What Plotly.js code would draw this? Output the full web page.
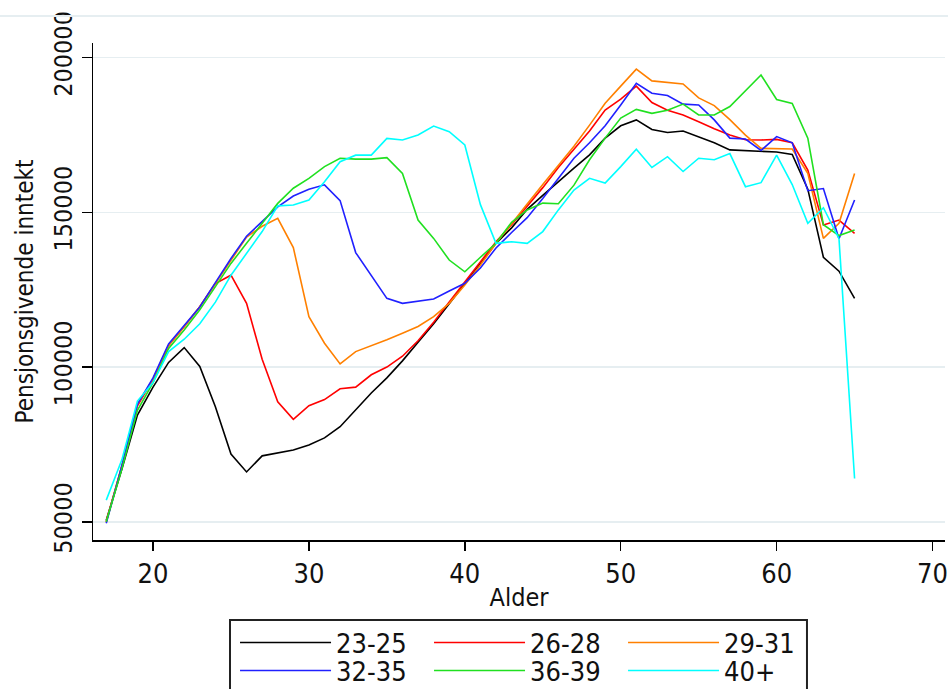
<!DOCTYPE html>
<html><head><meta charset="utf-8">
<script src="https://cdn.plot.ly/plotly-3.0.1.min.js"></script>
<style>html,body{margin:0;padding:0;background:#fff}</style>
</head><body>
<div id="chart" style="width:948px;height:689px"></div>
<script>
const ages = [17,18,19,20,21,22,23,24,25,26,27,28,29,30,31,32,33,34,35,36,37,38,39,40,41,42,43,44,45,46,47,48,49,50,51,52,53,54,55,56,57,58,59,60,61,62,63,64,65];

const seriesNames = ["23-25","26-28","29-31","32-35","36-39","40+"];

const v23_25 = [50500,67000,84500,93500,101500,106300,100200,87200,71900,66100,71300,72300,73200,74800,77100,80700,86100,91600,96500,102000,108000,114000,120500,127000,133500,140000,145000,151000,155500,160000,164300,168600,174000,178000,179900,176800,175800,176300,174500,172500,170200,170000,169900,169500,168700,157500,135500,131000,122200];
const v26_28 = [50000,68000,87500,96000,107000,113000,119500,127000,129700,120600,102500,88800,83100,87500,89500,93000,93500,97500,100000,103500,108500,114500,121000,127500,134000,140500,146000,152000,158000,164500,170500,176300,183100,186600,190800,185500,183000,181500,179300,177000,175000,173500,173400,173600,172500,163700,145900,147500,143200];
const v29_31 = [50000,68000,88000,96000,107000,113000,119500,127000,134500,142000,145500,148100,138600,116300,107700,101000,105000,106800,108800,110900,113100,116300,120600,126500,133000,140000,146500,152700,159000,165200,171400,178200,185300,190800,196300,192500,192000,191500,187000,184500,180000,175000,170700,170700,170500,162600,141600,146500,162600];
const v32_35 = [49500,68000,88000,96500,107500,113600,119400,127300,135100,142300,147000,151800,155300,157500,158900,153800,137000,129500,122200,120600,121200,122000,124600,127100,132000,138500,143500,148300,154500,161000,167500,172500,178000,184700,191700,188500,187800,185000,184700,179900,174000,173700,170000,174500,172500,157000,157700,141500,154000];
const v36_39 = [50000,67000,86000,95000,106000,112000,118500,126000,133500,140000,146500,152900,157800,161000,164800,167500,167200,167200,167700,162600,147500,141600,134600,130800,135500,140000,146800,150800,153000,152800,158800,167000,174000,180500,183300,182000,183000,185000,181500,181500,184200,189300,194400,186500,185200,174000,146000,142500,144300];
const v40p = [57000,70000,89000,95000,105000,109000,114000,121000,129700,136800,143800,152100,152400,154000,159900,166400,168500,168500,173900,173400,175000,177900,176100,171800,152500,140000,140500,140000,143800,150800,157200,161000,159500,164800,170400,164500,168000,163200,167500,167000,169000,158300,159600,168500,159000,146500,151500,141500,64000];

const seriesValues = [v23_25, v26_28, v29_31, v32_35, v36_39, v40p];
const seriesColors = ["#000000","#ff0000","#ff8000","#2020ff","#20e020","#00ffff"];

const xTicks = [20,30,40,50,60,70];
const yTicks = [50000,100000,150000,200000];

const FONT = "'Liberation Sans Narrow', 'Arial Narrow', 'DejaVu Sans Condensed', Arial, sans-serif";

const traces = seriesNames.map((name, i) => ({
  x: ages, y: seriesValues[i], name: name, type: 'scatter', mode: 'lines',
  line: {color: seriesColors[i], width: 1.6},
  legend: i < 3 ? 'legend' : 'legend2'
}));

const legendCommon = {
  orientation: 'h', xref: 'paper', yref: 'paper', xanchor: 'left', yanchor: 'middle',
  x: 0.1667, itemwidth: 91, entrywidth: 88, entrywidthmode: 'pixels',
  font: {family: FONT, size: 27, color: '#111'}, bgcolor: 'rgba(0,0,0,0)', borderwidth: 0,
  traceorder: 'normal', itemclick: false
};

const layout = {
  width: 948, height: 689,
  margin: {l: 93, r: 3, t: 43, b: 149, autoexpand: false},
  paper_bgcolor: '#ffffff', plot_bgcolor: '#ffffff',
  font: {family: FONT, color: '#111'},
  showlegend: true,
  xaxis: {
    range: [16.15, 70.8], tickvals: xTicks, ticktext: xTicks.map(String),
    ticks: 'outside', ticklen: 9, tickwidth: 1.5, tickcolor: '#000',
    showline: true, linecolor: '#000', linewidth: 1.5,
    showgrid: false, zeroline: false,
    tickfont: {family: FONT, size: 27, color: '#111'},
    title: {text: 'Alder', font: {family: FONT, size: 25, color: '#111'}, standoff: 0}
  },
  yaxis: {
    range: [44100, 204750], tickvals: yTicks, ticktext: yTicks.map(String),
    ticks: 'outside', ticklen: 10, tickwidth: 1.5, tickcolor: '#000', tickangle: -90,
    showline: true, linecolor: '#000', linewidth: 1.5,
    showgrid: true, gridcolor: '#e6eef1', gridwidth: 1.5, zeroline: false,
    tickfont: {family: FONT, size: 25, color: '#111'},
    title: {text: 'Pensjonsgivende inntekt', font: {family: FONT, size: 24, color: '#111'}, standoff: 8}
  },
  legend: Object.assign({}, legendCommon, {y: -0.2072}),
  legend2: Object.assign({}, legendCommon, {y: -0.2636}),
  shapes: [
    {type: 'rect', xref: 'paper', yref: 'paper', x0: 0.1608, x1: 0.838, y0: -0.34, y1: -0.161,
     line: {color: '#222', width: 2}, fillcolor: 'rgba(0,0,0,0)', layer: 'below'},
    {type: 'line', xref: 'paper', yref: 'paper', x0: -0.11, x1: 1.004, y0: 1.0543, y1: 1.0543,
     line: {color: '#e6eef1', width: 2}}
  ]
};

Plotly.newPlot('chart', traces, layout, {staticPlot: true, displayModeBar: false});
</script>
</body></html>
